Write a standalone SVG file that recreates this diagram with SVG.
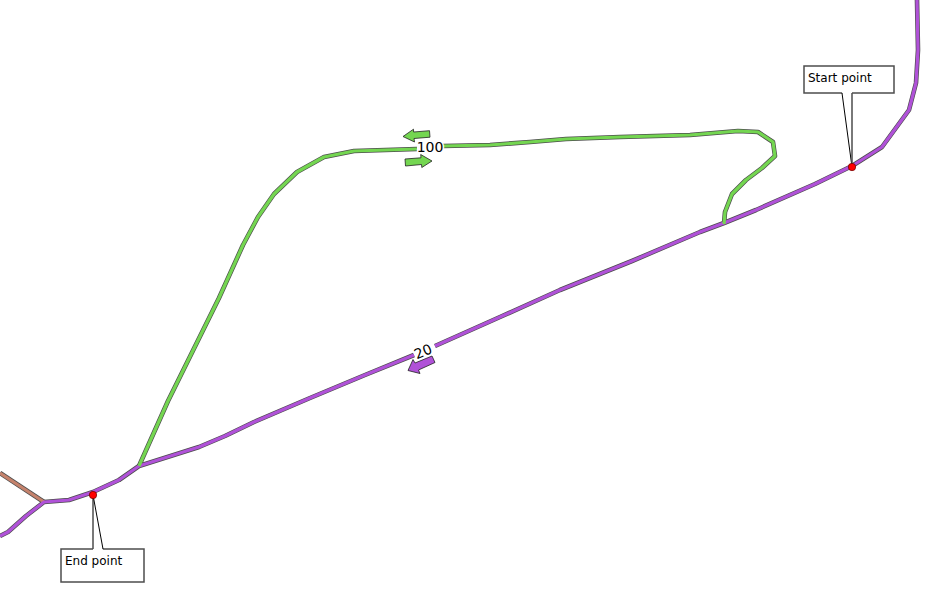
<svg xmlns="http://www.w3.org/2000/svg" width="943" height="604" viewBox="0 0 943 604">
<style>
.c{fill:none;stroke-linejoin:round;stroke-linecap:butt}
.o{stroke:#4d4d4d;stroke-width:4.6}
.p{stroke:#b052d8;stroke-width:3.2}
.g{stroke:#74d651;stroke-width:3.2}
.b{stroke:#c4826c;stroke-width:3.2}
.ag{fill:#74d651;stroke:#222;stroke-width:.8}
.ap{fill:#b052d8;stroke:#222;stroke-width:.8}
.box{fill:#fff;stroke:#4d4d4d;stroke-width:1.5}
.lead{fill:#fff;stroke:none}
.ln{fill:none;stroke:#000;stroke-width:1}
.ln2{fill:none;stroke:#4d4d4d;stroke-width:1.5}
.pt{fill:#f00;stroke:#600;stroke-width:.7}
text{font-family:"DejaVu Sans",sans-serif;fill:#000}
.t{font-size:12px}
.m{font-size:14px;stroke:#fff;stroke-width:3;paint-order:stroke}
</style>
<g id="connectors">
<path id="brown-o" class="c o" d="M0 473L44 502"/>
<path id="green-o" class="c o" d="M139 466L168 401L219 298L243 245L258 217L274 194L297 172L324 157L354 151L417 149M443 146L490 145L530 142L566 139L620 137L690 135L738 131L758 132L773 142L775 156L762 168L746 180L732 194L725 212L724 224"/>
<path id="purple-o" class="c o" d="M0 536L8 532L26 516L44 502L69 500L93 492L119 480L139 466L199 447L225 436L254 422L310 398L365 375L414 355M435 346L500 317L560 290L632 261L700 232L724 223L756 210L815 184L852 166L882 147L909 110L916 83L918 50L917 0"/>
<path id="brown" class="c b" d="M0 473L44 502"/>
<path id="purple" class="c p" d="M0 536L8 532L26 516L44 502L69 500L93 492L119 480L139 466L199 447L225 436L254 422L310 398L365 375L414 355M435 346L500 317L560 290L632 261L700 232L724 223L756 210L815 184L852 166L882 147L909 110L916 83L918 50L917 0"/>
<path id="green" class="c g" d="M139 466L168 401L219 298L243 245L258 217L274 194L297 172L324 157L354 151L417 149M443 146L490 145L530 142L566 139L620 137L690 135L738 131L758 132L773 142L775 156L762 168L746 180L732 194L725 212L724 224"/>
</g>
<g id="arrow-100-west"><path class="ag" d="M429.500 130.700L430 137.200L414 138.500L414.500 142L403 136.500L413.500 129.200L413.600 132Z"/></g>
<g id="arrow-100-east"><path class="ag" d="M405 159L421 157.800L420.700 154.500L432 161L421.800 167.500L421.500 164.500L405.500 166Z"/></g>
<g id="arrow-20"><path class="ap" d="M432 356L435 362.500L418.500 370L420 373.500L408 370.500L413 359.500L415 363Z"/></g>
<g id="label-100"><text class="m" x="430" y="152" text-anchor="middle">100</text></g>
<g id="label-20"><text class="m" text-anchor="middle" transform="translate(425 356) rotate(-23)">20</text></g>
<g id="start-point">
<rect class="box" x="804" y="66" width="90" height="27"/>
<path class="lead" d="M842 92L852 92L852 167Z"/>
<path class="ln" d="M842 93L852 167"/>
<path class="ln2" d="M852 93L852 167"/>
<circle class="pt" cx="852" cy="167" r="3.700"/>
<text class="t" x="808" y="82">Start point</text>
</g>
<g id="end-point">
<rect class="box" x="61" y="549" width="83" height="33"/>
<path class="lead" d="M93 495L93 550L103 550Z"/>
<path class="ln2" d="M93 495L93 549"/>
<path class="ln" d="M93 495L103 549"/>
<circle class="pt" cx="93" cy="495" r="3.700"/>
<text class="t" x="65" y="565">End point</text>
</g>
</svg>
